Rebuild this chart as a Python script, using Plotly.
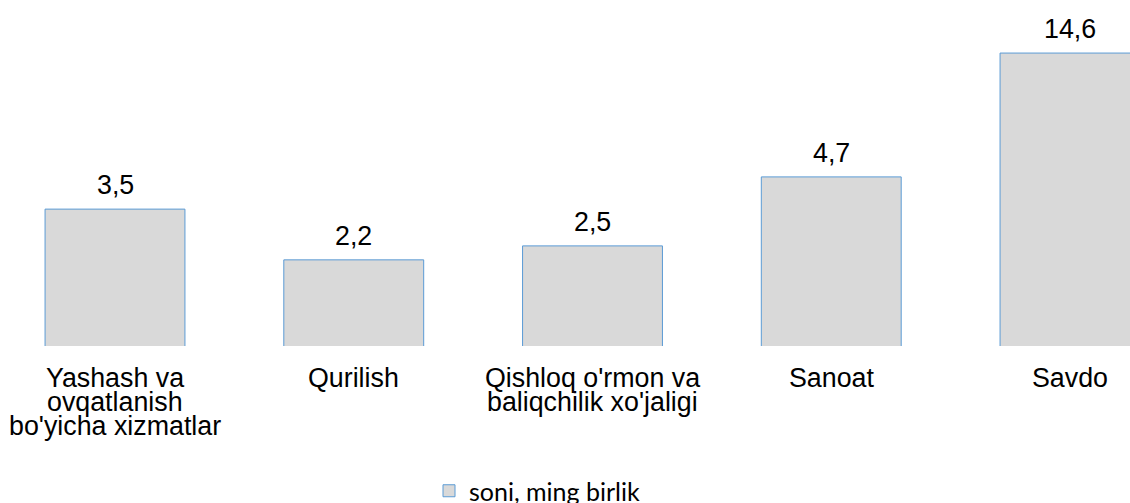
import math

import plotly.graph_objects as go

# Category labels, one list entry per printed line
category_lines = [
    ["Yashash va", "ovqatlanish", "bo'yicha xizmatlar"],
    ["Qurilish"],
    ["Qishloq o'rmon va", "baliqchilik xo'jaligi"],
    ["Sanoat"],
    ["Savdo"],
]
categories = [" ".join(lines) for lines in category_lines]
values = [3.5, 2.2, 2.5, 4.7, 14.6]
series_name = "soni, ming birlik"

W, H = 1130, 503
PX_PER_CAT = 238.75
PX_PER_DECADE = 251.6
plot_h = 346  # bars sit on this pixel row

label_font = dict(family="Liberation Sans, Arial, sans-serif", size=26.8, color="#000000")

fig = go.Figure()
fig.add_trace(go.Bar(
    x=categories, y=values, name=series_name,
    marker=dict(color="#d9d9d9", line=dict(color="#5b9bd5", width=1)),
    hovertemplate="%{y}<extra></extra>",
))

annotations = []
# value labels above each bar (comma decimal separator)
for c, v in zip(categories, values):
    annotations.append(dict(
        x=c, y=math.log10(v), xref="x", yref="y",
        text=f"{v:.1f}".replace(".", ","), showarrow=False,
        yanchor="bottom", yshift=7, font=label_font))
# category labels under the bars, tight line spacing
for c, lines in zip(categories, category_lines):
    for i, line in enumerate(lines):
        annotations.append(dict(
            x=c, y=0, xref="x", yref="paper", text=line, showarrow=False,
            yanchor="top", yshift=-15 - 24 * i, font=label_font))

# first bar centred at x=115px; last bar runs off the right edge
x0 = -115 / PX_PER_CAT
fig.update_layout(
    width=W, height=H,
    margin=dict(l=0, r=0, t=0, b=H - plot_h),
    paper_bgcolor="white", plot_bgcolor="white",
    bargap=0.414,
    showlegend=True,
    legend=dict(orientation="h", yref="container", y=(H - 491) / H,
                yanchor="middle", x=(469 - 40) / W, xanchor="left",
                font=dict(family="Lato, Noto Sans, sans-serif", size=25, color="#000000")),
    annotations=annotations,
)
fig.update_xaxes(range=[x0, x0 + W / PX_PER_CAT], showticklabels=False,
                 showgrid=False, zeroline=False, showline=False)
fig.update_yaxes(type="log", range=[0, plot_h / PX_PER_DECADE], visible=False,
                 showgrid=False, zeroline=False)

# drop the default 8px page margin so the figure fills the window
fig.write_html("out.html", config={"displayModeBar": False},
               post_script="document.body.style.margin = '0';")
